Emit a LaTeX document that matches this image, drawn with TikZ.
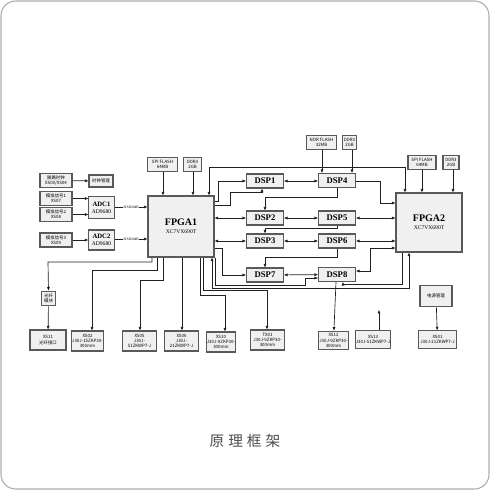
\documentclass[tikz,border=0pt]{standalone}
\usepackage{fontspec}
\setmainfont{Liberation Serif}
\newfontfamily\cjk{Noto Sans CJK SC}
\usetikzlibrary{arrows.meta}

\tikzset{every picture/.style={line width=0.75pt}}
\tikzset{
  blk/.style={draw=gray!70!black, fill=gray!12, line width=0.9pt, inner sep=0.3pt, align=center,
    font=\cjk\fontsize{3.3}{4}\selectfont},
  dspbox/.style={blk, minimum width=27.75pt, minimum height=10.5pt, font=\bfseries\fontsize{6.5}{7}\selectfont},
  fpgabox/.style={blk, minimum width=49.5pt},
  con/.style={draw=gray!25!black, line width=0.5pt, -{Triangle[length=2.6pt,width=2pt]}},
  bicon/.style={con, {Triangle[length=2.6pt,width=2pt]}-{Triangle[length=2.6pt,width=2pt]}},
  bus/.style={fill=white, inner sep=0.3pt, font=\fontsize{2.6}{3}\selectfont},
}

\begin{document}
\begin{tikzpicture}[x=0.75pt,y=0.75pt,yscale=-1,xscale=1]
\useasboundingbox (0,0) rectangle (490,490);
% frame
\draw[gray!65, line width=0.8pt, rounded corners=11pt] (1,1) rectangle (489,489);

% left inputs
\node[blk, minimum width=24pt, minimum height=11pt] (clksrc) at (56,180.5) {随路时钟\\XS03/XS04};
\node[blk, minimum width=18pt, minimum height=9pt] (clkmgr) at (101,181) {时钟管理};
\node[blk, minimum width=24pt, minimum height=10pt] (ana1) at (56,198.5) {模拟信号1\\XS07};
\node[blk, minimum width=24pt, minimum height=11pt] (ana2) at (56,214.5) {模拟信号2\\XS08};
\node[blk, minimum width=24pt, minimum height=10.5pt] (ana3) at (56,240) {模拟信号3\\XS09};
\node[blk, minimum width=19pt, minimum height=16pt] (adc1) at (101.5,207.5) {{\rmfamily\bfseries\fontsize{5}{6}\selectfont ADC1}\\[1pt]{\rmfamily\fontsize{4.2}{5}\selectfont AD9680}};
\node[blk, minimum width=19pt, minimum height=15pt] (adc2) at (101.5,240) {{\rmfamily\bfseries\fontsize{5}{6}\selectfont ADC2}\\[1pt]{\rmfamily\fontsize{4.2}{5}\selectfont AD9680}};

% FPGAs
\node[fpgabox, minimum height=45.75pt] (fpga1) at (181,226.5) {{\rmfamily\bfseries\fontsize{7.5}{9}\selectfont FPGA1}\\[2pt]{\rmfamily\fontsize{4.2}{5}\selectfont XC7VX690T}};
\node[fpgabox, minimum height=44.25pt] (fpga2) at (429,222.5) {{\rmfamily\bfseries\fontsize{7.5}{9}\selectfont FPGA2}\\[2pt]{\rmfamily\fontsize{4.2}{5}\selectfont XC7VX690T}};
\node[blk, minimum width=22pt, minimum height=11pt] (spi1) at (162.5,164.5) {SPI FLASH\\64MB};
\node[blk, minimum width=14pt, minimum height=11pt] (ddr1) at (192.5,164.5) {DDR3\\2GB};
\node[blk, minimum width=21pt, minimum height=11pt] (spi2) at (422,162.5) {SPI FLASH\\64MB};
\node[blk, minimum width=12pt, minimum height=11pt] (ddr3) at (451,162.5) {DDR3\\2GB};

% DSPs
\node[dspbox] (dsp1) at (265,181) {DSP1};
\node[dspbox] (dsp2) at (265,218) {DSP2};
\node[dspbox] (dsp3) at (265,241) {DSP3};
\node[dspbox] (dsp7) at (265,275) {DSP7};
\node[dspbox] (dsp4) at (337,180.5) {DSP4};
\node[dspbox] (dsp5) at (337,218) {DSP5};
\node[dspbox] (dsp6) at (337,241) {DSP6};
\node[dspbox] (dsp8) at (337,274.5) {DSP8};
\node[blk, minimum width=22pt, minimum height=11pt] (nor) at (321.5,142.5) {NOR FLASH\\32MB};
\node[blk, minimum width=11pt, minimum height=11pt] (ddr2) at (349.5,142.5) {DDR3\\2GB};

% bottom
\node[blk, minimum width=11pt, minimum height=11pt] (fiber) at (48.5,298.5) {光纤\\模块};
\node[blk, minimum width=27pt, minimum height=15pt] (xs11) at (48,340) {XS11\\光纤接口};
\node[blk, minimum width=19pt, minimum height=15pt] (xs02) at (87.5,341) {XS02\\J30J-15ZKP30-\\300mm};
\node[blk, minimum width=26pt, minimum height=15pt] (xs05) at (139.5,341) {XS05\\J30J-\\51ZKWP7-J};
\node[blk, minimum width=25pt, minimum height=15pt] (xs06) at (181.5,341) {XS06\\J30J-\\21ZKWP7-J};
\node[blk, minimum width=21pt, minimum height=15pt] (xs10) at (221,342) {XS10\\J30J-9ZKP30-\\300mm};
\node[blk, minimum width=26pt, minimum height=15pt] (tx01) at (267.5,340) {TX01\\J30J-9ZKP30-\\300mm};
\node[blk, minimum width=22pt, minimum height=14pt] (xs12) at (333.5,340.5) {XS12\\J30J-9ZKP30-\\300mm};
\node[blk, minimum width=24pt, minimum height=13pt] (xs13) at (373,339.5) {XS13\\J30J-51ZKWP7-J};
\node[blk, minimum width=24pt, minimum height=16pt] (power) at (436,296) {电源管理};
\node[blk, minimum width=29pt, minimum height=13pt] (xs01) at (437.5,339.5) {XS01\\J30J-21ZKWP7-J};
\coordinate (xs13up) at (379,310);

% title
\node[text=gray!60!black, font=\cjk\fontsize{11}{13}\selectfont] (title) at (245,441) {原\kern3pt 理\kern3pt 框\kern3pt 架};

% connections, left
\draw[con] (clksrc) -- (clkmgr);
\draw[con] (ana1.east) -- (adc1.west |- ana1.east);
\draw[con] (ana2.east) -- (adc1.west |- ana2.east);
\draw[con] (ana3) -- (adc2);
\draw[con] (adc1.east |- 0,207) -- node[bus] {JESD204B} (fpga1.west |- 0,207);
\draw[con] (adc2.east |- 0,239) -- node[bus] {JESD204B} (fpga1.west |- 0,239);
\draw[con] (spi1.south -| 163,0) -- (fpga1.north -| 163,0);
\draw[con] (ddr1.south -| 193,0) -- (fpga1.north -| 193,0);
\draw[con] (spi2.south -| 422,0) -- (fpga2.north -| 422,0);
\draw[con] (ddr3.south -| 453,0) -- (fpga2.north -| 453,0);
\draw[con] (nor.south -| 322,0) -- (dsp4.north -| 322,0);
\draw[con] (ddr2.south -| 352,0) -- (dsp4.north -| 352,0);

% FPGA1 - FPGA2
\draw[bicon] (fpga1.north -| 209,0) |- (405,167) -- (fpga2.north -| 405,0);
\draw[bicon] (fpga1.south -| 212,0) |- (409,288) -- (fpga2.south -| 409,0);

% FPGA1 - DSP
\draw[con] (fpga1.east |- 0,201) -| (218,181) -- (dsp1.west |- 0,181);
\draw[con] (fpga1.east |- 0,205) -| (230,192) -| (dsp1.south -| 262,0);
\draw[bicon] (fpga1.east |- 0,218) -- (dsp2.west);
\draw[bicon] (fpga1.east |- 0,241) -- (dsp3.west);
\draw[con] (fpga1.east |- 0,248) -| (222,275) -- (dsp7.west);
\draw[con] (fpga1.south -| 215,0) |- (305,285) |- (dsp8.west |- 0,278);

% DSP - DSP
\draw[bicon] (dsp1.east |- 0,181) -- (dsp4.west |- 0,181);
\draw[bicon] (dsp2) -- (dsp5);
\draw[bicon] (dsp3) -- (dsp6);
\draw[bicon] (dsp7) -- (dsp8);
\draw[con] (dsp4.south) |- (265,197) -- (dsp2.north -| 265,0);
\draw[con] (dsp5.south) |- (265,228) -- (dsp3.north -| 265,0);
\draw[con] (dsp6.south) |- (265,257) -- (dsp7.north -| 265,0);

% DSP - FPGA2
\draw[con] (dsp4.east |- 0,181) -| (380,203) -- (fpga2.west |- 0,203);
\draw[bicon] (dsp5.east) -- (fpga2.west |- dsp5.east);
\draw[bicon] (dsp6.east) -- (fpga2.west |- dsp6.east);
\draw[bicon] (dsp8.east |- 0,271) -| (370,248) -- (fpga2.west |- 0,248);
\draw[con] (fpga2.south -| 402,0) |- (343,284) -- (dsp8.south -| 343,0);

% bottom connectors
\draw[con] (fpga1.south -| 152,0) |- (48,262) -- (fiber.north);
\draw[con] (fiber) -- (xs11);
\draw[con] (fpga1.south -| 157,0) |- (92,270) -- (xs02.north -| 92,0);
\draw[con] (fpga1.south -| 163,0) |- (140,280) -- (xs05.north -| 140,0);
\draw[con] (fpga1.south -| 182,0) -- (xs06.north -| 182,0);
\draw[con] (fpga1.south -| 200,0) |- (225,295) -- (xs10.north -| 225,0);
\draw[con] (fpga1.south -| 203,0) |- (267,290) -- (tx01.north -| 267,0);
\draw[con] (dsp8.south -| 336,0) -- (xs12);
\draw[con] (xs13.north -| 379,0) -- (xs13up);
\draw[con] (power) -- (xs01);

\end{tikzpicture}
\end{document}
